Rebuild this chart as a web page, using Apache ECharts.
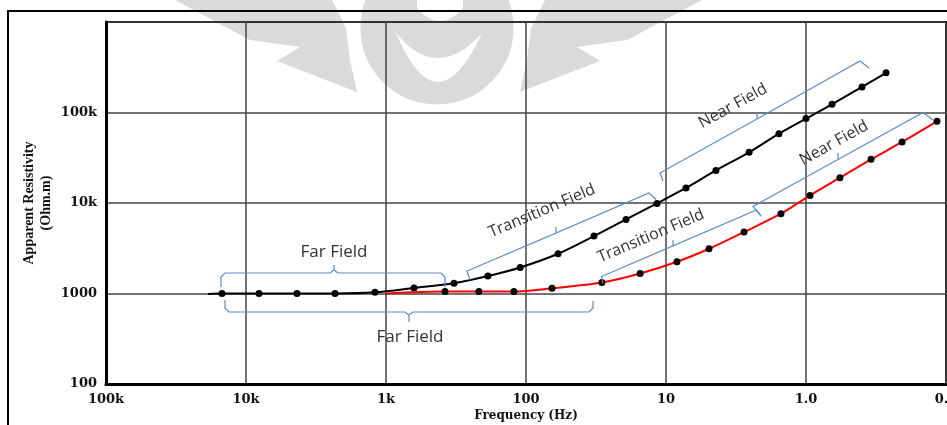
<!DOCTYPE html>
<html>
<head>
<meta charset="utf-8">
<script src="https://cdn.jsdelivr.net/npm/echarts@6/dist/echarts.min.js"></script>
<style>
html,body{margin:0;padding:0;background:#fff;}
#chart{width:947px;height:425px;}
</style>
</head>
<body>
<div id="chart"></div>
<script>
// ---- data ----
const xTickValues = [100000, 10000, 1000, 100, 10, 1, 0.1];
const xTickLabels = ['100k', '10k', '1k', '100', '10', '1.0', '0.1'];
const yTickValues = [100, 1000, 10000, 100000, 1000000];
const yTickLabels = ['100', '1000', '10k', '100k', ''];

const blackFreq = [18680, 14840, 8075, 4323, 2313, 1198, 631, 327, 187, 110, 59, 32.7, 19.3, 11.6, 7.2, 4.4, 2.55, 1.56, 1.0, 0.652, 0.398, 0.268];
const blackRes  = [990, 1000, 1000, 1000, 1000, 1030, 1150, 1300, 1560, 1940, 2750, 4310, 6590, 9900, 14650, 22900, 36300, 58400, 85600, 123200, 191900, 274200];

const redFreq = [1000, 379, 217, 122, 65.2, 28.7, 15.3, 8.35, 4.93, 2.77, 1.51, 0.936, 0.572, 0.343, 0.206, 0.116];
const redRes  = [1000, 1050, 1050, 1050, 1140, 1320, 1660, 2240, 3120, 4780, 7610, 12140, 19050, 30370, 47300, 79900];

const xAxisTitle = 'Frequency (Hz)';
const yAxisTitle = 'Apparent Resistivity\n(Ohm.m)';

// ---- helpers ----
function lookup(vals, labels, v) {
  for (let i = 0; i < vals.length; i++) {
    if (Math.abs(Math.log10(v) - Math.log10(vals[i])) < 1e-4) return labels[i];
  }
  return '';
}
function build(xs, ys) {
  return xs.map((x, i) => i === 0 ? { value: [x, ys[i]], symbol: 'none' } : [x, ys[i]]);
}
function quad(p0, c, p2, n) {
  const out = [];
  for (let i = 0; i <= n; i++) {
    const t = i / n, u = 1 - t;
    out.push([u*u*p0[0] + 2*u*t*c[0] + t*t*p2[0], u*u*p0[1] + 2*u*t*c[1] + t*t*p2[1]]);
  }
  return out;
}

const chart = echarts.init(document.getElementById('chart'));

const wm = '#dadada';
const brC = '#5b8ccb';
const txC = '#333333';
const deg = Math.PI / 180;

function bracket(pts) {
  return { type: 'polyline', z: 10, shape: { points: pts }, style: { stroke: brC, lineWidth: 1.2, fill: null } };
}
function label(text, x, y, rotDeg, size) {
  return { type: 'text', z: 10, x: x, y: y, rotation: rotDeg * deg,
    style: { text: text, font: size + 'px "Open Sans"', fill: txC, textAlign: 'center', textVerticalAlign: 'middle' } };
}
function mirror(pts) { return pts.map(p => [877 - p[0], p[1]]); }

const leftWing = [[175,0],[332,0],[346,28],[350,60],[357,92],[277,61],[300,47],[250,40]];
const crescent = quad([396,33],[437,131],[482,33],16).concat(quad([482,33],[437,83],[396,33],16));
const topNotch = [[417,0]].concat(quad([417,8],[440,34],[463,8],12)).concat([[463,0]]);

const option = {
  animation: false,
  backgroundColor: '#fff',
  grid: { left: 106, right: 1, top: 22, bottom: 41, show: true, borderColor: '#000', borderWidth: 2,
    containLabel: false, outerBoundsMode: 'none' },
  xAxis: {
    type: 'log', logBase: 10, inverse: true, min: 0.1, max: 100000, interval: 1,
    name: xAxisTitle, nameLocation: 'middle', nameGap: 26, nameMoveOverlap: false,
    nameTextStyle: { fontFamily: 'DejaVu Serif', fontWeight: 'bold', fontSize: 12, color: '#111' },
    axisLine: { onZero: false, lineStyle: { color: '#000', width: 3 } },
    axisTick: { show: false },
    axisLabel: { margin: 9, fontFamily: 'DejaVu Serif', fontWeight: 'bold', fontSize: 13, color: '#111',
      showMinLabel: true, showMaxLabel: true, hideOverlap: false,
      formatter: v => lookup(xTickValues, xTickLabels, v) },
    splitLine: { show: true, lineStyle: { color: '#444', width: 1.5 } }
  },
  yAxis: {
    type: 'log', logBase: 10, min: 100, max: 1000000, interval: 1,
    name: yAxisTitle, nameLocation: 'middle', nameRotate: 90, nameGap: 51, nameMoveOverlap: false,
    nameTextStyle: { fontFamily: 'Liberation Serif', fontWeight: 'bold', fontSize: 14, lineHeight: 17, color: '#111' },
    axisLine: { onZero: false, lineStyle: { color: '#000', width: 3 } },
    axisTick: { show: false },
    axisLabel: { margin: 9, fontFamily: 'DejaVu Serif', fontWeight: 'bold', fontSize: 13, color: '#111',
      showMinLabel: true, showMaxLabel: true,
      formatter: v => lookup(yTickValues, yTickLabels, v) },
    splitLine: { show: true, lineStyle: { color: '#444', width: 1.5 } }
  },
  series: [
    { type: 'line', name: 'black', data: build(blackFreq, blackRes), smooth: 0.3,
      lineStyle: { color: '#000', width: 2 }, symbol: 'circle', symbolSize: 7,
      itemStyle: { color: '#000' }, z: 3 },
    { type: 'line', name: 'red', data: build(redFreq, redRes), smooth: 0.3,
      lineStyle: { color: '#ff0000', width: 2 }, symbol: 'circle', symbolSize: 7,
      itemStyle: { color: '#000' }, z: 4 }
  ],
  graphic: [
    // watermark
    { type: 'polygon', z: -5, shape: { points: leftWing }, style: { fill: wm } },
    { type: 'polygon', z: -5, shape: { points: mirror(leftWing) }, style: { fill: wm } },
    { type: 'circle', z: -4, shape: { cx: 437, cy: 28, r: 80 }, style: { fill: wm, stroke: '#fff', lineWidth: 7 } },
    { type: 'polygon', z: -3, shape: { points: crescent }, style: { fill: '#fff' } },
    { type: 'polygon', z: -3, shape: { points: topNotch }, style: { fill: '#fff' } },
    // outer frame
    { type: 'rect', z: 20, shape: { x: 8, y: 11, width: 980, height: 440 }, style: { fill: null, stroke: '#000', lineWidth: 2 } },
    // brackets
    bracket([[221,287],[221,277],[225,273],[330,273],[334,270],[334,265],[334,270],[338,273],[441,273],[445,277],[445,287]]),
    bracket([[225,300],[225,308],[229,312],[405,312],[409,315],[409,322],[409,315],[413,312],[589,312],[593,308],[593,301]]),
    bracket([[470,280],[467,271],[556,233],[556,227],[556,233],[649,193],[656,199.5]]),
    bracket([[663,181],[660,173],[757,119],[757,113],[757,119],[860,61],[869,68]]),
    bracket([[603,283.5],[601.5,276.5],[673,245.8],[673,240],[673,245.8],[756.5,210],[761.5,216.5]]),
    bracket([[760,215],[753,206.5],[838,159.5],[838,153],[838,159.5],[923,112.5],[933,120]]),
    // labels
    label('Far Field', 334, 252, 0, 17),
    label('Far Field', 410, 337, 0, 17),
    label('Transition Field', 542, 211, 23, 16),
    label('Near Field', 733, 106, 29, 16),
    label('Transition Field', 651, 236, 23, 16),
    label('Near Field', 834, 143, 29, 16)
  ]
};
chart.setOption(option);
</script>
</body>
</html>
